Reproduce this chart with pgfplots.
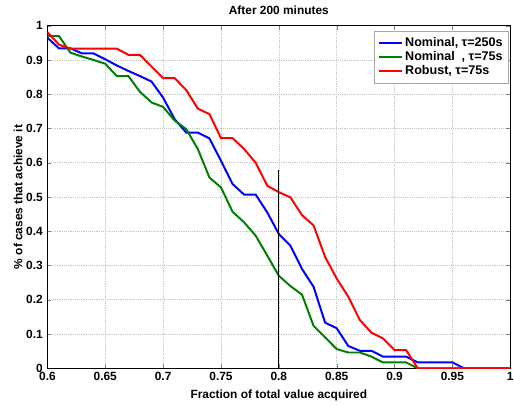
\documentclass[border=0pt]{standalone}
\usepackage{fontspec}
\setmainfont{Liberation Sans}
\usepackage{pgfplots}
\pgfplotsset{compat=1.18}
\usetikzlibrary{calc}
\definecolor{mBlue}{rgb}{0,0,1}
\definecolor{mGreen}{rgb}{0,0.5,0}
\definecolor{mRed}{rgb}{1,0,0}
\begin{document}
\begin{tikzpicture}
\begin{axis}[
  scale only axis,
  width=350pt, height=259pt,
  xmin=0.6, xmax=1, ymin=0, ymax=1,
  xtick={0.6,0.65,...,1.0}, ytick={0,0.1,...,1.0},
  xticklabels={0.6,0.65,0.7,0.75,0.8,0.85,0.9,0.95,1},
  yticklabels={0,0.1,0.2,0.3,0.4,0.5,0.6,0.7,0.8,0.9,1},
  /pgf/number format/assume math mode=true,
  tick align=inside, major tick length=3pt,
  grid=major, grid style={gray!45, densely dotted, line width=0.4pt},
  axis line style={line width=0.5pt},
  tick label style={font=\bfseries\fontsize{9}{10}\selectfont},
  label style={font=\bfseries\fontsize{9}{10}\selectfont},
  title style={font=\bfseries\fontsize{9}{10}\selectfont, yshift=-1pt},
  title={After 200 minutes},
  xlabel={Fraction of total value acquired},
  ylabel={\% of cases that achieve it},
  xlabel style={yshift=0pt},
  ylabel style={yshift=-4pt},
  xticklabel style={yshift=0.5pt},
  legend cell align=left,
  legend style={at={(0.997,0.985)}, anchor=north east, draw=gray!70,
    font=\bfseries\fontsize{9.5}{10.5}\selectfont, row sep=-1.5pt, inner sep=2.5pt},
]
\addplot[mBlue, line width=1.5pt] coordinates {
(0.60,0.965)(0.61,0.934)(0.62,0.934)(0.63,0.919)(0.64,0.919)(0.65,0.902)
(0.66,0.884)(0.67,0.868)(0.68,0.853)(0.69,0.837)(0.70,0.790)(0.71,0.727)
(0.72,0.688)(0.73,0.688)(0.74,0.671)(0.75,0.606)(0.76,0.538)(0.77,0.507)
(0.78,0.507)(0.79,0.455)(0.80,0.392)(0.81,0.358)(0.82,0.290)(0.83,0.238)
(0.84,0.133)(0.85,0.117)(0.86,0.065)(0.87,0.051)(0.88,0.051)(0.89,0.034)
(0.90,0.034)(0.91,0.034)(0.92,0.017)(0.93,0.017)(0.94,0.017)(0.95,0.017)
(0.96,0)(0.97,0)(0.98,0)(0.99,0)(1.00,0)};
\addplot[mGreen, line width=1.5pt] coordinates {
(0.60,0.970)(0.61,0.970)(0.62,0.921)(0.63,0.910)(0.64,0.900)(0.65,0.889)
(0.66,0.853)(0.67,0.853)(0.68,0.807)(0.69,0.776)(0.70,0.763)(0.71,0.723)
(0.72,0.698)(0.73,0.640)(0.74,0.557)(0.75,0.528)(0.76,0.457)(0.77,0.426)
(0.78,0.387)(0.79,0.329)(0.80,0.270)(0.81,0.240)(0.82,0.215)(0.83,0.124)
(0.84,0.090)(0.85,0.056)(0.86,0.046)(0.87,0.046)(0.88,0.034)(0.89,0.017)
(0.90,0.017)(0.91,0.017)(0.92,0)(0.93,0)(0.94,0)(0.95,0)(0.96,0)
(0.97,0)(0.98,0)(0.99,0)(1.00,0)};
\addplot[mRed, line width=1.5pt] coordinates {
(0.60,0.981)(0.61,0.945)(0.62,0.933)(0.63,0.933)(0.64,0.933)(0.65,0.933)
(0.66,0.933)(0.67,0.915)(0.68,0.915)(0.69,0.881)(0.70,0.847)(0.71,0.847)
(0.72,0.812)(0.73,0.758)(0.74,0.742)(0.75,0.672)(0.76,0.672)(0.77,0.640)
(0.78,0.600)(0.79,0.533)(0.80,0.514)(0.81,0.499)(0.82,0.447)(0.83,0.417)
(0.84,0.325)(0.85,0.262)(0.86,0.209)(0.87,0.141)(0.88,0.104)(0.89,0.087)
(0.90,0.053)(0.91,0.053)(0.92,0)(0.93,0)(0.94,0)(0.95,0)(0.96,0)
(0.97,0)(0.98,0)(0.99,0)(1.00,0)};
\addplot[black, line width=0.7pt, forget plot] coordinates {(0.8,0)(0.8,0.58)};
\legend{{Nominal, τ=250s},{Nominal~~, τ=75s},{Robust, τ=75s}}
\end{axis}
\pgfresetboundingbox
\path[use as bounding box] ($(current axis.outer south west)+(-7pt,0pt)$)
  rectangle ($(current axis.outer north east)+(-3pt,1pt)$);
\end{tikzpicture}
\end{document}
